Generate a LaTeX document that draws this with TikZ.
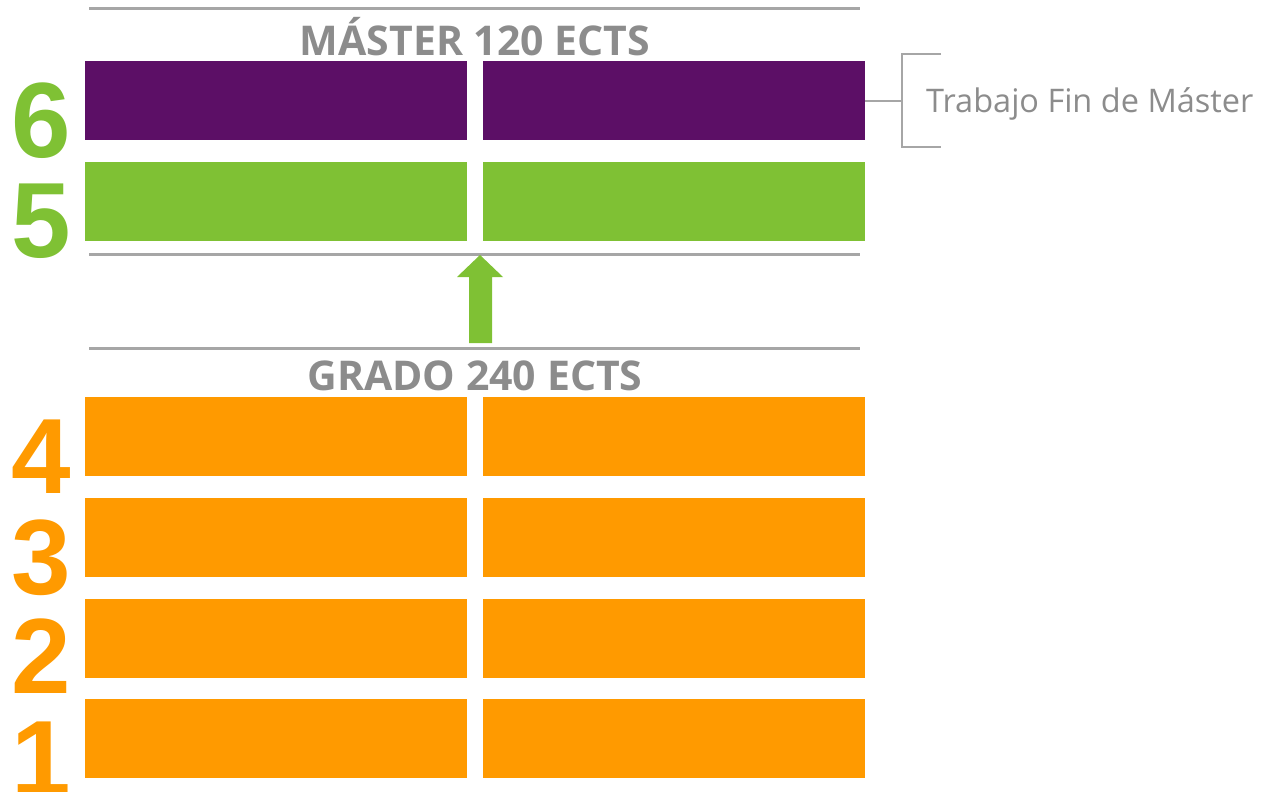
\documentclass[tikz,border=0pt]{standalone}
\usepackage{fontspec}
\setmainfont{Open Sans}
\newfontfamily\digitfont{Liberation Sans}
\definecolor{mpurple}{HTML}{5C0F66}
\definecolor{mgreen}{HTML}{7FC134}
\definecolor{morange}{HTML}{FF9A00}
\definecolor{lgray}{HTML}{A6A6A6}
\definecolor{tgray}{HTML}{8C8C8C}
\begin{document}
\begin{tikzpicture}[x=1pt,y=-1pt,
  bar/.style={anchor=north west,inner sep=0pt,outer sep=0pt,minimum width=382pt,minimum height=79pt},
  rule/.style={draw=lgray,line width=3pt},
  header/.style={anchor=base,inner sep=0pt,text=tgray,font=\fontsize{41}{41}\selectfont\bfseries},
  digit/.style={anchor=base,inner sep=0pt,font=\digitfont\fontsize{107}{107}\selectfont\bfseries},
  bracket/.style={draw=lgray,line width=2pt}]
\useasboundingbox (0,0) rectangle (1263,792);
% rules
\coordinate (r1a) at (89,8.5); \coordinate (r1b) at (860,8.5);
\coordinate (r2a) at (89,254); \coordinate (r2b) at (860,254);
\coordinate (r3a) at (89,348.5); \coordinate (r3b) at (860,348.5);
\draw[rule] (r1a) -- (r1b);
\draw[rule] (r2a) -- (r2b);
\draw[rule] (r3a) -- (r3b);
% headers
\node[header] (hm) at (475,56) {MÁSTER 120 ECTS};
\node[header] (hg) at (475,390) {GRADO 240 ECTS};
% bars
\node[bar,fill=mpurple] (b6l) at (85,61) {};
\node[bar,fill=mpurple] (b6r) at (483,61) {};
\node[bar,fill=mgreen] (b5l) at (85,162) {};
\node[bar,fill=mgreen] (b5r) at (483,162) {};
\node[bar,fill=morange] (b4l) at (85,397) {};
\node[bar,fill=morange] (b4r) at (483,397) {};
\node[bar,fill=morange] (b3l) at (85,498) {};
\node[bar,fill=morange] (b3r) at (483,498) {};
\node[bar,fill=morange] (b2l) at (85,599) {};
\node[bar,fill=morange] (b2r) at (483,599) {};
\node[bar,fill=morange] (b1l) at (85,699) {};
\node[bar,fill=morange] (b1r) at (483,699) {};
% digits
\node[digit,text=mgreen] (d6) at (41,157) {6};
\node[digit,text=mgreen] (d5) at (41,257) {5};
\node[digit,text=morange] (d4) at (41,493) {4};
\node[digit,text=morange] (d3) at (41,594) {3};
\node[digit,text=morange] (d2) at (41,693) {2};
\node[digit,text=morange] (d1) at (41,795) {1};
% arrow
\fill[mgreen] (469,343) -- (469,277) -- (457,277) -- (480,255) -- (503,277) -- (492,277) -- (492,343) -- cycle;
% bracket
\coordinate (bk) at (902,100.5);
\coordinate (bt) at (902,54); \coordinate (bte) at (941,54);
\coordinate (bb) at (902,147); \coordinate (bbe) at (941,147);
\draw[bracket] (b6r.east) -- (bk);
\draw[bracket] (bte) -- (bt) -- (bb) -- (bbe);
\node[anchor=base west,inner sep=0pt,text=tgray,font=\fontsize{32.5}{32.5}\selectfont] (tfm) at (926,112) {Trabajo Fin de Máster};
\end{tikzpicture}
\end{document}
